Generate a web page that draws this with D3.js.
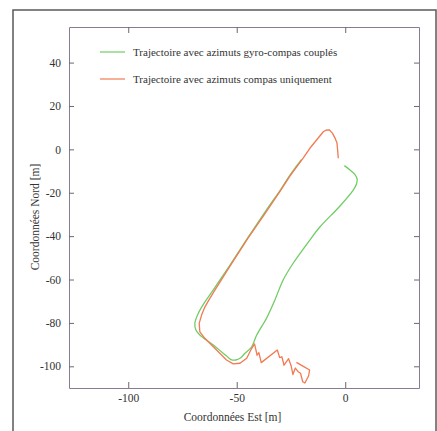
<!DOCTYPE html>
<html>
<head>
<meta charset="utf-8">
<script src="https://cdn.jsdelivr.net/npm/d3@7"></script>
<style>
  html, body { margin: 0; padding: 0; background: #fff; }
  svg { display: block; }
</style>
</head>
<body>
<script>
// ---- Data (metres, Est / Nord) ----
const seriesNames = ["Trajectoire avec azimuts gyro-compas couplés", "Trajectoire avec azimuts compas uniquement"];
const xTicks = [-100, -50, 0];
const yTicks = [40, 20, 0, -20, -40, -60, -80, -100];

const gyroEst = [-0.4, 2.2, 4.5, 5.5, 5.2, 3.7, -2.4, -11.7, -16.3, -24.0, -28.6, -32.4, -36.2, -40.8, -43.1, -46.2, -48.3, -50.4, -52.7, -54.7, -60.8, -67.0, -68.8, -69.3, -67.7, -64.7, -60.8, -53.1, -44.8, -36.5, -29.6, -25.7, -22.6, -20.2];
const gyroNord = [-7.5, -9.5, -11.6, -13.7, -16.0, -18.8, -26.1, -35.8, -41.8, -52.5, -60.2, -69.4, -77.7, -85.6, -91.0, -94.0, -96.2, -97.1, -96.9, -95.3, -90.2, -85.6, -83.3, -80.2, -75.6, -70.4, -64.8, -53.3, -40.6, -28.2, -18.3, -12.2, -7.9, -4.7];

const compasEst = [-3.2, -3.5, -3.8, -4.7, -5.9, -7.4, -8.9, -10.1, -13.2, -16.3, -19.4, -25.5, -29.6, -36.5, -44.8, -53.1, -60.0, -62.8, -64.7, -66.2, -67.3, -67.0, -64.7, -59.3, -54.7, -51.6, -48.5, -45.4, -43.5, -41.8, -40.6, -39.8, -38.7, -31.3, -30.2, -29.2, -28.2, -26.1, -24.9, -24.1, -23.0, -21.7, -20.6, -19.6, -18.6, -16.9, -16.4, -19.5, -22.5];
const compasNord = [-4.1, -0.3, 2.9, 5.2, 7.5, 9.0, 8.8, 8.1, 4.3, 0.5, -4.0, -12.3, -18.7, -28.9, -40.9, -53.8, -64.8, -69.4, -72.7, -76.4, -80.2, -84.1, -87.1, -92.5, -97.1, -98.9, -98.6, -96.3, -92.5, -89.7, -94.9, -93.7, -98.3, -92.5, -96.0, -95.6, -99.5, -96.5, -99.9, -103.8, -100.8, -102.5, -103.2, -107.1, -107.7, -104.5, -101.7, -99.9, -98.2];

const colors = ["#72cc66", "#f27a52"];

// ---- Layout ----
const W = 437, H = 431;
const plot = { left: 69, right: 419, top: 27, bottom: 388 };

const svg = d3.select("body").append("svg").attr("width", W).attr("height", H);

// outer frame
svg.append("rect").attr("x", 13).attr("y", 10).attr("width", 423).attr("height", 440)
  .attr("fill", "none").attr("stroke", "#5a5a5a").attr("stroke-width", 1.5);

const x = d3.scaleLinear().domain([-127.3, 34]).range([plot.left, plot.right]);
const y = d3.scaleLinear().domain([-110, 56.4]).range([plot.bottom, plot.top]);

const axisColor = "#8a7c90";
const textColor = "#333";
const font = "'Liberation Serif', 'Times New Roman', serif";
const fmt = d => String(d);

function styleAxis(g) {
  g.attr("font-family", null);
  g.select(".domain").attr("stroke", axisColor).attr("stroke-width", 1);
  g.selectAll(".tick line").attr("stroke", "#6a6a6a").attr("stroke-width", 1);
  g.selectAll(".tick text").attr("fill", textColor).style("font-family", font).style("font-size", "11.5px");
}

svg.append("g").attr("transform", `translate(0,${plot.bottom})`)
  .call(d3.axisBottom(x).tickValues(xTicks).tickFormat(fmt).tickSizeInner(-6).tickSizeOuter(0).tickPadding(6))
  .call(styleAxis);
svg.append("g").attr("transform", `translate(0,${plot.top})`)
  .call(d3.axisTop(x).tickValues(xTicks).tickFormat("").tickSizeInner(-6).tickSizeOuter(0))
  .call(styleAxis);
svg.append("g").attr("transform", `translate(${plot.left},0)`)
  .call(d3.axisLeft(y).tickValues(yTicks).tickFormat(fmt).tickSizeInner(-5).tickSizeOuter(0).tickPadding(8))
  .call(styleAxis);
svg.append("g").attr("transform", `translate(${plot.right},0)`)
  .call(d3.axisRight(y).tickValues(yTicks).tickFormat("").tickSizeInner(-5).tickSizeOuter(0))
  .call(styleAxis);

// axis titles
svg.append("text").attr("x", 232.5).attr("y", 421).attr("text-anchor", "middle")
  .attr("fill", textColor).style("font-family", font).style("font-size", "11.5px")
  .text("Coordonnées Est [m]");
svg.append("text").attr("transform", "translate(39,217) rotate(-90)").attr("text-anchor", "middle")
  .attr("fill", textColor).style("font-family", font).style("font-size", "11.5px")
  .text("Coordonnées Nord [m]");

// lines
const line = d3.line().x(d => x(d[0])).y(d => y(d[1])).curve(d3.curveCatmullRom.alpha(0.5));
const gyro = gyroEst.map((e, i) => [e, gyroNord[i]]);
const compas = compasEst.map((e, i) => [e, compasNord[i]]);

svg.append("path").datum(gyro).attr("d", line).attr("fill", "none")
  .attr("stroke", colors[0]).attr("stroke-width", 1.3);
svg.append("path").datum(compas).attr("d", d3.line().x(d => x(d[0])).y(d => y(d[1])))
  .attr("fill", "none").attr("stroke", colors[1]).attr("stroke-width", 1.3).attr("stroke-linejoin", "round");

// legend
const legendY = [52, 79];
seriesNames.forEach((name, i) => {
  svg.append("line").attr("x1", 100).attr("x2", 125).attr("y1", legendY[i]).attr("y2", legendY[i])
    .attr("stroke", colors[i]).attr("stroke-width", 1.2);
  svg.append("text").attr("x", 133).attr("y", legendY[i] + 4)
    .attr("fill", textColor).style("font-family", font).style("font-size", "11px")
    .text(name);
});
</script>
</body>
</html>
